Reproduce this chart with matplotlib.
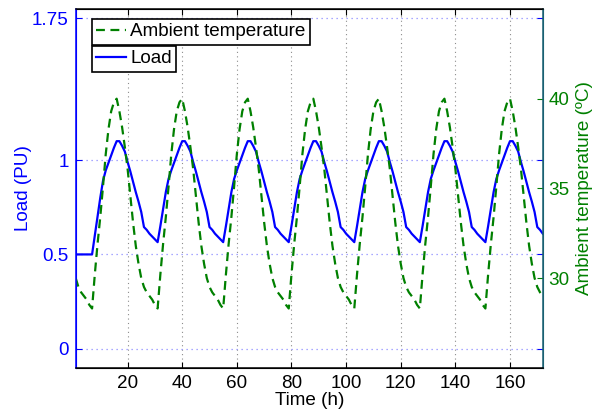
import numpy as np
import matplotlib
matplotlib.use('Agg')
import matplotlib.pyplot as plt
from matplotlib.lines import Line2D

plt.rcParams['font.family'] = ['Liberation Sans', 'DejaVu Sans']
fs = 13.6
plt.rcParams['font.size'] = fs

# hourly values, t = 1..172 h
time_h = list(range(1, 173))

load_pu = [0.5, 0.5, 0.5, 0.5, 0.5, 0.5, 0.5,
           0.60, 0.70, 0.80, 0.89, 0.945, 0.985, 1.025, 1.065, 1.10, 1.10, 1.075,
           1.045, 0.99, 0.94, 0.885, 0.83, 0.78, 0.725, 0.645, 0.63, 0.61, 0.595, 0.58,
           0.565, 0.65, 0.74, 0.83, 0.90, 0.945, 0.985, 1.025, 1.065, 1.10, 1.10, 1.075,
           1.045, 0.99, 0.94, 0.885, 0.83, 0.78, 0.725, 0.645, 0.63, 0.61, 0.595, 0.58,
           0.565, 0.65, 0.74, 0.83, 0.90, 0.945, 0.985, 1.025, 1.065, 1.10, 1.10, 1.075,
           1.045, 0.99, 0.94, 0.885, 0.83, 0.78, 0.725, 0.645, 0.63, 0.61, 0.595, 0.58,
           0.565, 0.65, 0.74, 0.83, 0.90, 0.945, 0.985, 1.025, 1.065, 1.10, 1.10, 1.075,
           1.045, 0.99, 0.94, 0.885, 0.83, 0.78, 0.725, 0.645, 0.63, 0.61, 0.595, 0.58,
           0.565, 0.65, 0.74, 0.83, 0.90, 0.945, 0.985, 1.025, 1.065, 1.10, 1.10, 1.075,
           1.045, 0.99, 0.94, 0.885, 0.83, 0.78, 0.725, 0.645, 0.63, 0.61, 0.595, 0.58,
           0.565, 0.65, 0.74, 0.83, 0.90, 0.945, 0.985, 1.025, 1.065, 1.10, 1.10, 1.075,
           1.045, 0.99, 0.94, 0.885, 0.83, 0.78, 0.725, 0.645, 0.63, 0.61, 0.595, 0.58,
           0.565, 0.65, 0.74, 0.83, 0.90, 0.945, 0.985, 1.025, 1.065, 1.10, 1.10, 1.075,
           1.045, 0.99, 0.94, 0.885, 0.83, 0.78, 0.725, 0.645, 0.63, 0.61]

temp_c = [30.0, 29.5, 29.2, 29.0, 28.8, 28.5,
          28.3, 30.2, 31.9, 33.4, 35.1, 36.9, 38.3, 39.3, 39.8, 40.0, 39.3, 38.4,
          37.3, 36.1, 34.6, 33.1, 31.8, 30.8, 30.0, 29.5, 29.2, 29.0, 28.8, 28.5,
          28.3, 30.2, 31.9, 33.4, 35.1, 36.9, 38.3, 39.3, 39.8, 40.0, 39.3, 38.4,
          37.3, 36.1, 34.6, 33.1, 31.8, 30.8, 30.0, 29.5, 29.2, 29.0, 28.8, 28.5,
          28.3, 30.2, 31.9, 33.4, 35.1, 36.9, 38.3, 39.3, 39.8, 40.0, 39.3, 38.4,
          37.3, 36.1, 34.6, 33.1, 31.8, 30.8, 30.0, 29.5, 29.2, 29.0, 28.8, 28.5,
          28.3, 30.2, 31.9, 33.4, 35.1, 36.9, 38.3, 39.3, 39.8, 40.0, 39.3, 38.4,
          37.3, 36.1, 34.6, 33.1, 31.8, 30.8, 30.0, 29.5, 29.2, 29.0, 28.8, 28.5,
          28.3, 30.2, 31.9, 33.4, 35.1, 36.9, 38.3, 39.3, 39.8, 40.0, 39.3, 38.4,
          37.3, 36.1, 34.6, 33.1, 31.8, 30.8, 30.0, 29.5, 29.2, 29.0, 28.8, 28.5,
          28.3, 30.2, 31.9, 33.4, 35.1, 36.9, 38.3, 39.3, 39.8, 40.0, 39.3, 38.4,
          37.3, 36.1, 34.6, 33.1, 31.8, 30.8, 30.0, 29.5, 29.2, 29.0, 28.8, 28.5,
          28.3, 30.2, 31.9, 33.4, 35.1, 36.9, 38.3, 39.3, 39.8, 40.0, 39.3, 38.4,
          37.3, 36.1, 34.6, 33.1, 31.8, 30.8, 30.0, 29.5, 29.2, 29.0]

x_ticks = [20, 40, 60, 80, 100, 120, 140, 160]
load_ticks = [0, 0.5, 1, 1.75]
load_tick_labels = ['0', '0.5', '1', '1.75']
temp_ticks = [30, 35, 40]

blue = (0, 0, 1)
green = (0, 0.5, 0)

fig = plt.figure(figsize=(5.95, 4.11), dpi=100)
ax1 = fig.add_axes([0.1272, 0.1054, 0.785, 0.8726])
ax2 = ax1.twinx()

ax1.plot(time_h, load_pu, color=blue, lw=1.6)
ax2.plot(time_h, temp_c, color=green, lw=1.6, ls=(0, (4, 2.5)))

ax1.set_xlim(1, 172)
ax1.set_ylim(-0.1, 1.8)
ax2.set_ylim(25, 45)

ax1.set_xticks(x_ticks)
ax1.set_yticks(load_ticks)
ax1.set_yticklabels(load_tick_labels)
ax2.set_yticks(temp_ticks)

ax1.tick_params(axis='x', direction='in', length=4, top=True, colors='black', labelsize=fs, pad=5)
ax1.tick_params(axis='y', direction='in', length=4, right=True, colors=blue, labelsize=fs, pad=5)
ax2.tick_params(axis='y', direction='in', length=4, colors=green, labelsize=fs, pad=4)

# grid: grey dotted verticals, light blue dotted horizontals
for xv in x_ticks:
    ax1.axvline(xv, color='0.55', lw=0.8, ls=(0, (1, 3)), zorder=0)
for yv in load_ticks:
    ax1.axhline(yv, color=(0.55, 0.55, 1), lw=0.9, ls=(0, (1, 3)), zorder=0)

for sp in ['top', 'bottom']:
    ax1.spines[sp].set_color('black')
    ax2.spines[sp].set_color('black')
ax1.spines['left'].set_color(blue)
ax2.spines['left'].set_color(blue)
ax2.spines['right'].set_color((0.1, 0.38, 0.45))
ax1.spines['right'].set_color((0.1, 0.38, 0.45))
for sp in ax2.spines.values():
    sp.set_linewidth(1.1)

ax1.set_xlabel('Time (h)', fontsize=fs, labelpad=0)
ax1.set_ylabel('Load (PU)', color=blue, fontsize=fs, labelpad=0)
ax2.set_ylabel('Ambient temperature (ºC)', color=green, fontsize=fs, labelpad=5)

h_temp = Line2D([], [], color=green, lw=1.6, ls=(0, (4, 2.5)))
h_load = Line2D([], [], color=blue, lw=1.6)
leg_kw = dict(loc='upper left', bbox_transform=fig.transFigure, borderaxespad=0,
              fancybox=False, framealpha=1, edgecolor='black', fontsize=fs,
              handlelength=1.6, handletextpad=0.2, borderpad=0.22)
leg1 = ax2.legend([h_temp], ['Ambient temperature'], bbox_to_anchor=(0.1546, 0.9538), **leg_kw)
leg1.get_frame().set_linewidth(1.2)
ax2.add_artist(leg1)
leg2 = ax2.legend([h_load], ['Load'], bbox_to_anchor=(0.1546, 0.888), **leg_kw)
leg2.get_frame().set_linewidth(1.2)

fig.savefig('out.png', dpi=100)
